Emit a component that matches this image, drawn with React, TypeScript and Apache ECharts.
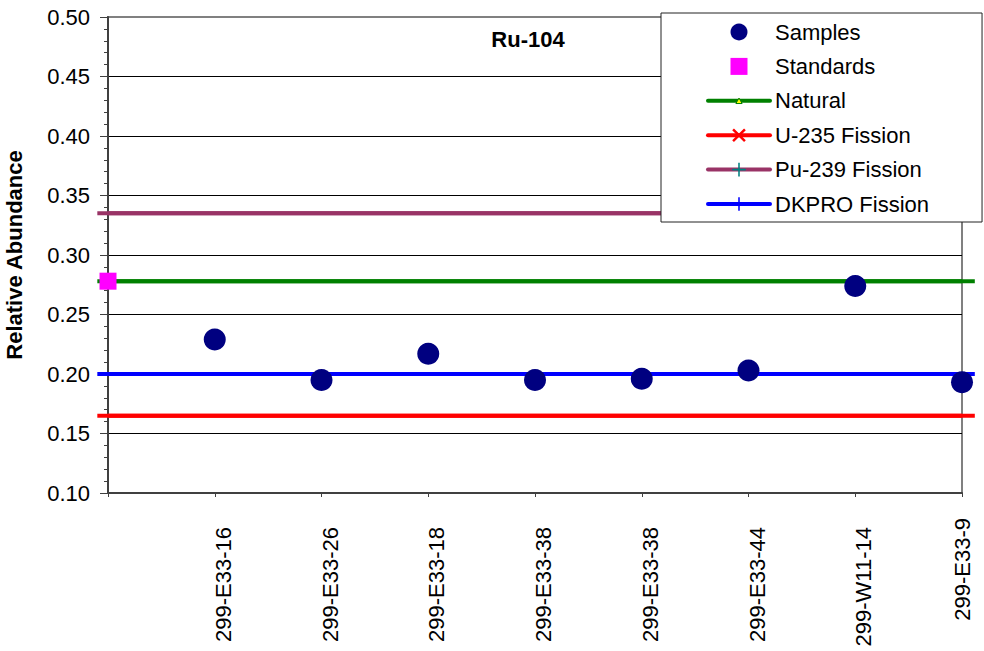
import React, { useEffect, useRef } from 'react';
import * as echarts from 'echarts';

// ---- data ----
const categories = ['', '299-E33-16', '299-E33-26', '299-E33-18', '299-E33-38', '299-E33-38', '299-E33-44', '299-W11-14', '299-E33-9'];
const sampleValues = [0.229, 0.195, 0.217, 0.195, 0.196, 0.203, 0.274, 0.193];
const standardValues = [0.278];
const naturalValue = 0.278;
const u235Value = 0.165;
const pu239Value = 0.335;
const dkproValue = 0.2;
const yMin = 0.1;
const yMax = 0.5;
const yInterval = 0.05;
const lineExtent = [-0.1, 8.12];

const FONT = '"Liberation Sans", Arial, sans-serif';

const triPath = 'path://M0,0M14,14M7,4.2L10.2,9.8L3.8,9.8Z';
const xPath = 'path://M0,1.8L1.8,0L7,5.2L12.2,0L14,1.8L8.8,7L14,12.2L12.2,14L7,8.8L1.8,14L0,12.2L5.2,7Z';
const plusPath = 'path://M6.2,0H7.8V14H6.2Z M0,6.2H14V7.8H0Z';
const squareLegendIcon = 'path://M0,0M62,17M22.5,0H39.5V17H22.5Z';

export default function App() {
  const ref = useRef<HTMLDivElement>(null);

  useEffect(() => {
    const chart = echarts.init(ref.current!, null, { renderer: 'svg' });
    const lastIdx = categories.length - 1;

    // line series (in range; also provides the legend icon)
    const hline = (name: string, value: number, color: string, symbol: string) => ({
      name,
      type: 'line',
      data: [0, lastIdx].map((x) => [x, value]),
      showSymbol: false,
      symbol,
      symbolSize: 12,
      clip: false,
      color,
      lineStyle: { color, width: 4 },
      itemStyle: { color },
      silent: true,
      z: 2,
    });

    // full-extent line, extending slightly past the plot edges like the original
    const hlineExt = (name: string, value: number, color: string) => ({
      name,
      type: 'custom',
      silent: true,
      clip: false,
      z: 2,
      data: [[value]],
      renderItem: (_params: any, api: any) => {
        const v = api.value(0);
        const a = api.coord([0, v]);
        const b = api.coord([lastIdx, v]);
        const px = (x: number) => a[0] + ((b[0] - a[0]) * x) / lastIdx;
        return {
          type: 'line',
          shape: { x1: px(lineExtent[0]), y1: a[1], x2: px(lineExtent[1]), y2: a[1] },
          style: { stroke: color, lineWidth: 4 },
        };
      },
    });

    chart.setOption({
      animation: false,
      backgroundColor: '#fff',
      textStyle: { fontFamily: FONT },
      title: {
        text: 'Ru-104',
        left: 528,
        top: 28,
        textAlign: 'center',
        padding: 0,
        textStyle: { fontSize: 22, fontWeight: 'bold', color: '#000', fontFamily: FONT },
      },
      grid: {
        left: 108,
        right: 22,
        top: 17,
        bottom: 158,
        outerBoundsMode: 'none',
        containLabel: false,
        show: true,
        borderColor: '#808080',
        borderWidth: 2,
        backgroundColor: '#fff',
      },
      legend: {
        orient: 'vertical',
        left: 661,
        top: 13,
        padding: [8, 53, 7, 45],
        itemWidth: 62,
        itemHeight: 17,
        itemGap: 12.4,
        backgroundColor: '#fff',
        borderColor: '#222',
        borderWidth: 1,
        borderRadius: 0,
        textStyle: { fontSize: 22, color: '#000', fontFamily: FONT },
        lineStyle: { width: 4, cap: 'round' },
        selectedMode: false,
        z: 10,
        data: [
          { name: 'Samples', itemStyle: { opacity: 1 } },
          { name: 'Standards', icon: squareLegendIcon, itemStyle: { opacity: 1 } },
          { name: 'Natural', itemStyle: { color: '#ffff00', borderColor: '#008000', borderWidth: 1 } },
          { name: 'U-235 Fission', itemStyle: { color: '#ff0000', borderWidth: 0 } },
          { name: 'Pu-239 Fission', itemStyle: { color: '#008080', borderWidth: 0 } },
          { name: 'DKPRO Fission', itemStyle: { color: '#0000ff', borderWidth: 0 } },
        ],
      },
      xAxis: {
        type: 'value',
        min: 0,
        max: lastIdx,
        interval: 1,
        axisLine: { show: true, onZero: false, lineStyle: { color: '#404040', width: 2 } },
        axisTick: { show: true, length: 4, lineStyle: { color: '#404040', width: 1 } },
        splitLine: { show: false },
        axisLabel: {
          show: true,
          rotate: 90,
          margin: 25,
          showMinLabel: true,
          showMaxLabel: true,
          color: '#000',
          fontSize: 22,
          fontFamily: FONT,
          formatter: (v: number) => {
            const i = Math.round(v);
            const name = categories[i] || '';
            if (!name) return '';
            return i === lastIdx ? `{b|${name}}` : `{a|${name}}`;
          },
          rich: {
            a: { fontSize: 22, color: '#000', fontFamily: FONT, padding: [17, 9, 0, 0] },
            b: { fontSize: 22, color: '#000', fontFamily: FONT },
          },
        },
      },
      yAxis: {
        type: 'value',
        min: yMin,
        max: yMax,
        interval: yInterval,
        name: 'Relative Abundance',
        nameLocation: 'middle',
        nameGap: 83,
        nameTextStyle: { fontSize: 22, fontWeight: 'bold', color: '#000', fontFamily: FONT },
        axisLine: { show: true, lineStyle: { color: '#404040', width: 2 } },
        axisTick: { show: true, length: 8, lineStyle: { color: '#404040', width: 1 } },
        minorTick: { show: true, splitNumber: 5, length: 4, lineStyle: { color: '#404040', width: 1 } },
        splitLine: { show: true, showMaxLine: false, showMinLine: false, lineStyle: { color: '#000', width: 1 } },
        axisLabel: {
          margin: 18,
          color: '#000',
          fontSize: 22,
          fontFamily: FONT,
          formatter: (v: number) => v.toFixed(2),
        },
      },
      series: [
        hline('Natural', naturalValue, '#008000', triPath),
        hline('U-235 Fission', u235Value, '#ff0000', xPath),
        hline('Pu-239 Fission', pu239Value, '#993366', plusPath),
        hline('DKPRO Fission', dkproValue, '#0000ff', plusPath),
        hlineExt('Natural', naturalValue, '#008000'),
        hlineExt('U-235 Fission', u235Value, '#ff0000'),
        hlineExt('Pu-239 Fission', pu239Value, '#993366'),
        hlineExt('DKPRO Fission', dkproValue, '#0000ff'),
        {
          name: 'Standards',
          type: 'scatter',
          symbol: 'rect',
          symbolSize: 17,
          itemStyle: { color: '#ff00ff', opacity: 1 },
          data: standardValues.map((v, i) => [i, v]),
          clip: false,
          z: 3,
        },
        {
          name: 'Samples',
          type: 'scatter',
          symbol: 'circle',
          symbolSize: 22,
          itemStyle: { color: '#000080', opacity: 1 },
          data: sampleValues.map((v, i) => [i + 1, v]),
          clip: false,
          z: 4,
        },
      ],
    });

    return () => chart.dispose();
  }, []);

  return (
    <div
      ref={ref}
      style={{ position: 'absolute', left: 0, top: 0, width: 984, height: 651 }}
    />
  );
}
